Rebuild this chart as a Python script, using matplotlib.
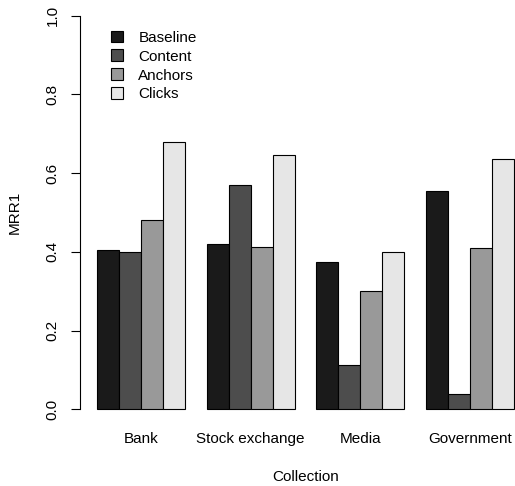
import matplotlib.pyplot as plt
import numpy as np

plt.rcParams['font.family'] = ['Liberation Sans', 'DejaVu Sans']

collections = ["Bank", "Stock exchange", "Media", "Government"]
methods = ["Baseline", "Content", "Anchors", "Clicks"]
baseline = [0.405, 0.420, 0.374, 0.555]
content = [0.400, 0.570, 0.113, 0.040]
anchors = [0.482, 0.412, 0.301, 0.409]
clicks = [0.680, 0.645, 0.400, 0.636]
colors = ["#1a1a1a", "#4d4d4d", "#999999", "#e6e6e6"]

series = [baseline, content, anchors, clicks]

fig = plt.figure(figsize=(5.15, 4.86), dpi=100)
# plot region runs a little past the right edge, like the cropped original
ax = fig.add_axes([80.3 / 515, 61 / 486, 450.4 / 515, 425 / 486])

fs = 11
# R-style barplot: bar width 1, gap of 1 between groups
group_start = np.arange(len(collections)) * 5 + 1
for i, vals in enumerate(series):
    ax.bar(group_start + i, vals, width=1, align='edge', color=colors[i],
           edgecolor='black', linewidth=0.8, label=methods[i])

ax.set_xlim(0.24, 20.76)
ax.set_ylim(-0.04, 1.04)

ax.set_xticks(group_start + 2)
ax.set_xticklabels(collections, fontsize=fs)
ax.tick_params(axis='x', length=0, pad=5)
ax.set_yticks([0, 0.2, 0.4, 0.6, 0.8, 1.0])
ax.set_yticklabels(["0.0", "0.2", "0.4", "0.6", "0.8", "1.0"], fontsize=fs,
                   rotation=90, va='center')
ax.tick_params(axis='y', length=6.5, width=0.8, pad=8.5)

for s in ['top', 'right', 'bottom']:
    ax.spines[s].set_visible(False)
ax.spines['left'].set_bounds(0, 1)
ax.spines['left'].set_linewidth(0.8)

ax.set_xlabel("Collection", fontsize=fs, labelpad=17)
ax.set_ylabel("MRR1", fontsize=fs, labelpad=17)

ax.legend(loc='upper left', bbox_to_anchor=(0.068, 0.928), frameon=False,
          fontsize=fs, handlelength=0.8, handleheight=0.8, handletextpad=1.0,
          labelspacing=0.31, borderpad=0, borderaxespad=0)

fig.savefig("out.png", dpi=100)
